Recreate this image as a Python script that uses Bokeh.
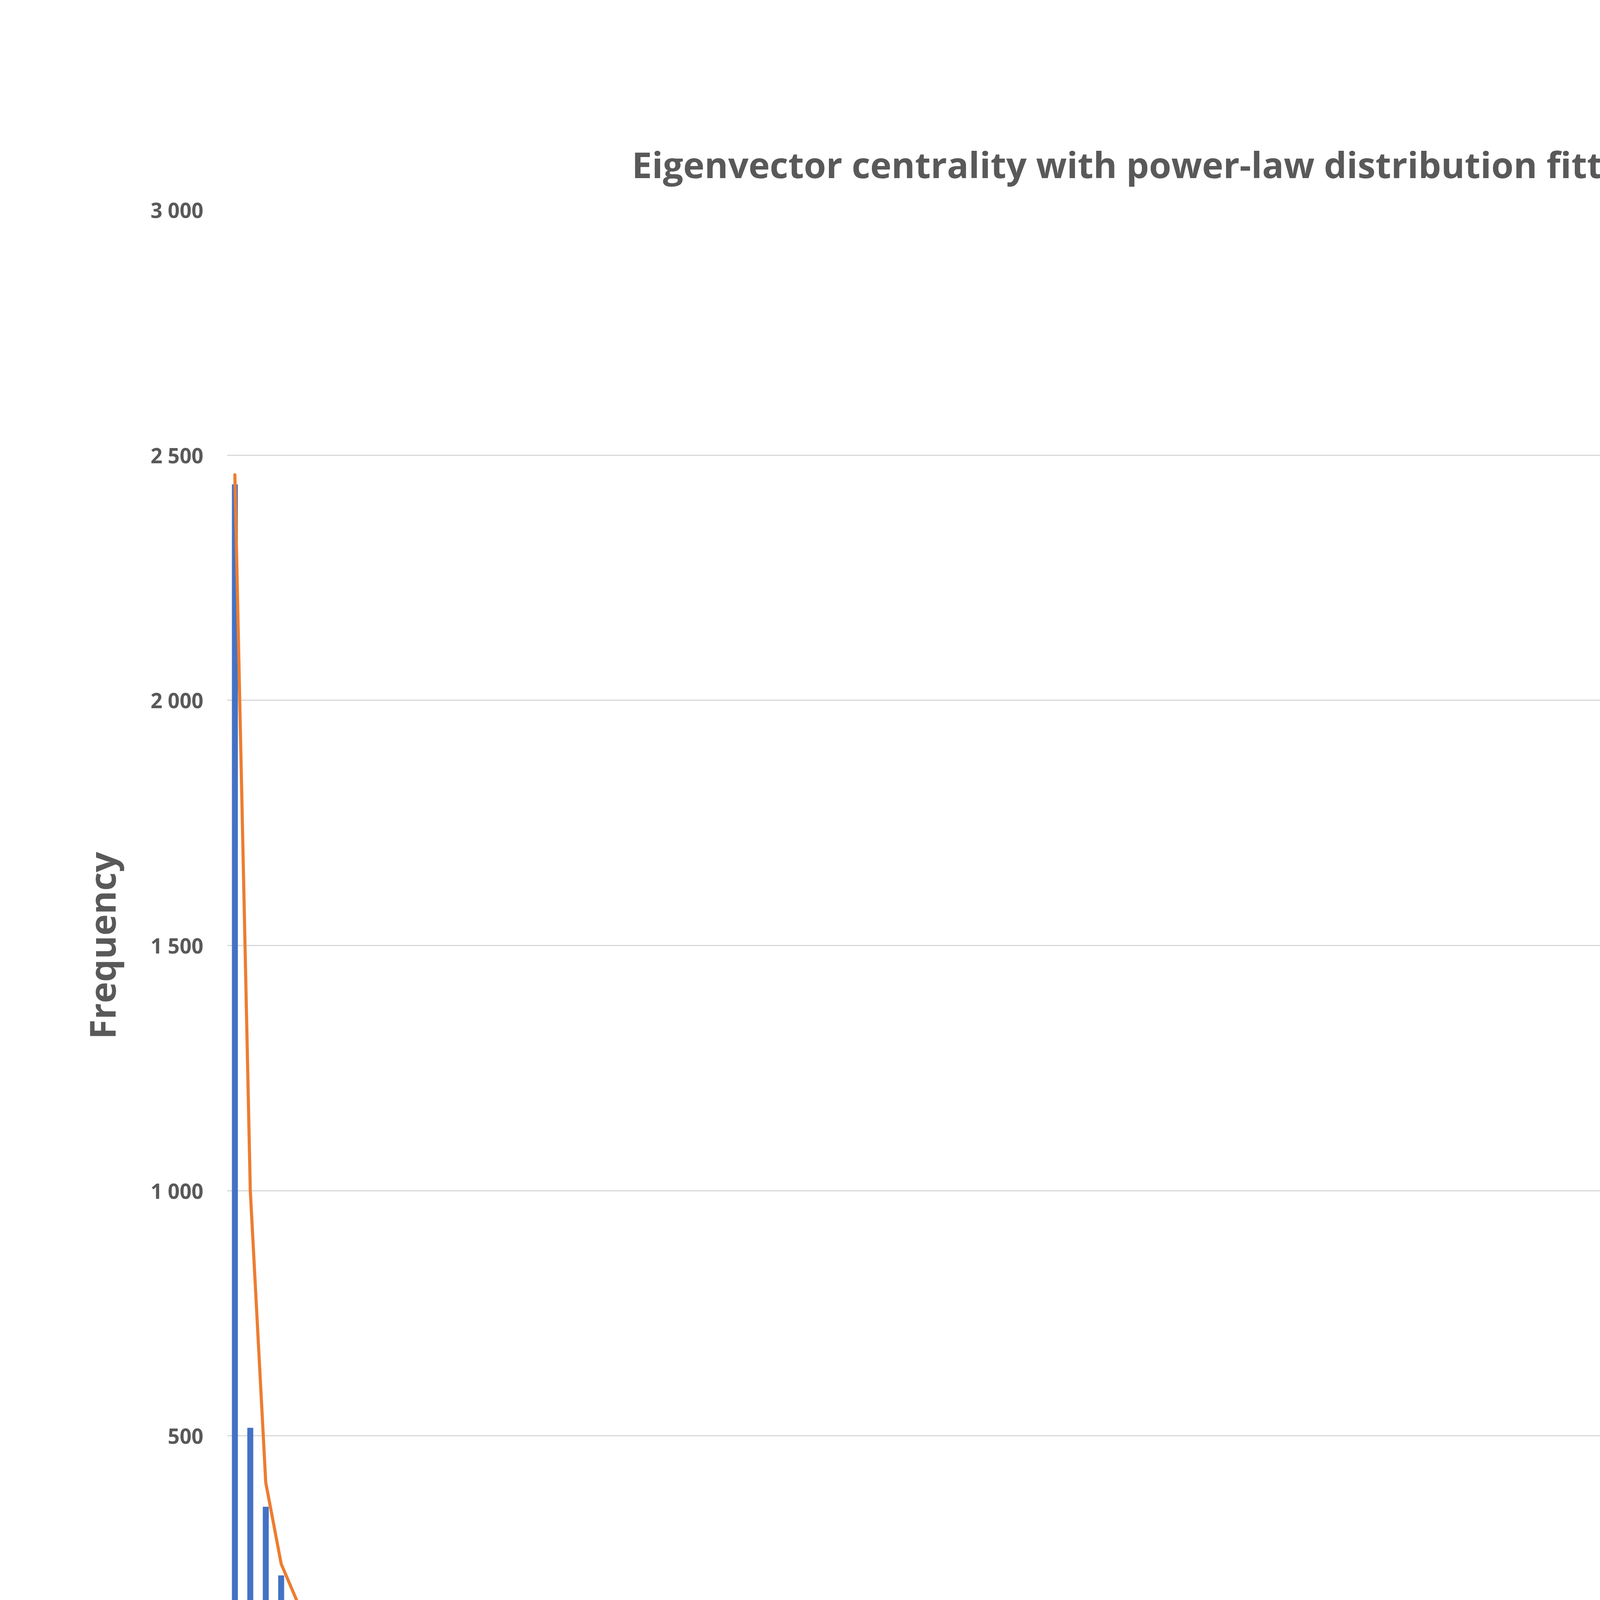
from bokeh.plotting import figure
from bokeh.models import ColumnDataSource, FixedTicker, Legend, LegendItem, Range1d
from bokeh.embed import file_html
from bokeh.resources import INLINE

n_bins = 100
bin_width = 0.002
bin_starts = [i * bin_width for i in range(n_bins)]

freq = [2440, 516, 355, 215, 157, 110, 104, 57, 41, 37, 37, 20, 24, 21, 20, 16, 14, 13, 10, 10,
        13, 6, 2, 4, 2, 0, 4, 4, 5, 0, 2, 4, 4, 1, 0, 2, 4, 4, 1, 0,
        0, 1, 1, 0, 1] + [0] * 55

power_law = [2460, 1000, 405, 239, 165, 123, 96, 81, 69, 59, 52, 46, 41, 37, 33, 30, 27, 25, 24, 23,
             22, 21, 20, 19, 18, 17, 16, 15, 15, 14, 13, 13, 12, 12, 11, 11, 10, 10, 10, 9,
             9, 9, 8, 8, 8, 8, 7, 7, 7, 7, 7, 6, 6, 6, 6, 6, 6, 5, 5, 5,
             5, 5, 5, 5, 5, 4, 4, 4, 4, 4, 4, 4, 4, 4, 4, 4, 4, 4, 3, 3,
             3, 3, 3, 3, 3, 3, 3, 3, 3, 3, 3, 3, 3, 3, 3, 3, 3, 3, 3, 3]

y_ticks = [0, 500, 1000, 1500, 2000, 2500, 3000]
y_tick_labels = ["0", "500", "1 000", "1 500", "2 000", "2 500", "3 000"]

idx = list(range(n_bins))
x_labels = {i: ("%.2f" % bin_starts[i]).replace(".", ",") for i in idx if i % 2 == 0}

src = ColumnDataSource(dict(x=idx, freq=freq, pl=power_law))

W, H = 5790, 4950
TXT = "#595959"
FONT = "Open Sans"

p = figure(width=W, height=H, output_backend="svg", toolbar_location=None,
           x_range=Range1d(-0.5, n_bins - 0.5), y_range=Range1d(0, 3000),
           min_border_left=581, min_border_right=916, min_border_top=537, min_border_bottom=647,
           title="Eigenvector centrality with power-law distribution fitted")

p.title.text_font = FONT
p.title.text_font_size = "92px"
p.title.text_color = TXT
p.title.text_font_style = "bold"
p.title.align = "left"
p.title.offset = 1036
p.title.standoff = 110

bars = p.vbar(x="x", top="freq", width=0.36, source=src, color="#4472C4")
line = p.line(x="x", y="pl", source=src, line_color="#ED7D31", line_width=8, line_cap="round", line_join="round")

p.xaxis.ticker = FixedTicker(ticks=[i for i in idx if i % 2 == 0], minor_ticks=[i - 0.5 for i in range(n_bins + 1)])
p.xaxis.major_label_overrides = x_labels
p.xaxis.major_label_orientation = 1.5708
p.xaxis.major_tick_line_color = None
p.xaxis.minor_tick_line_color = "#d9d9d9"
p.xaxis.minor_tick_line_width = 3
p.xaxis.minor_tick_out = 22
p.xaxis.minor_tick_in = 0
p.xaxis.axis_line_color = "#d9d9d9"
p.xaxis.axis_line_width = 3
p.xaxis.axis_label = "Eigenvector centrality"
p.xaxis.axis_label_standoff = 200

p.yaxis.ticker = FixedTicker(ticks=y_ticks)
p.yaxis.major_label_overrides = {t: l for t, l in zip(y_ticks, y_tick_labels)}
p.yaxis.axis_line_color = None
p.yaxis.major_tick_line_color = None
p.yaxis.minor_tick_line_color = None
p.yaxis.axis_label = "Frequency"
p.yaxis.axis_label_standoff = 60
p.yaxis.major_label_standoff = 55

for ax in (p.xaxis, p.yaxis):
    ax.major_label_text_font = FONT
    ax.major_label_text_font_size = "53px"
    ax.major_label_text_font_style = "bold"
    ax.major_label_text_color = TXT
    ax.axis_label_text_font = FONT
    ax.axis_label_text_font_size = "92px"
    ax.axis_label_text_font_style = "bold"
    ax.axis_label_text_color = TXT

p.xgrid.grid_line_color = None
p.ygrid.grid_line_color = "#d9d9d9"
p.ygrid.grid_line_width = 3
p.outline_line_color = None
p.border_fill_color = "white"

legend = Legend(items=[LegendItem(label="Eigenvector centrality", renderers=[bars]),
                       LegendItem(label="power-law", renderers=[line])],
                location="center", margin=100, padding=0, spacing=105,
                glyph_width=85, glyph_height=40, label_standoff=8,
                label_text_font=FONT, label_text_font_size="50px", label_text_font_style="bold",
                label_text_color=TXT, border_line_color=None, background_fill_alpha=0)
p.add_layout(legend, "right")

open("out.html", "w").write(file_html(p, INLINE))
